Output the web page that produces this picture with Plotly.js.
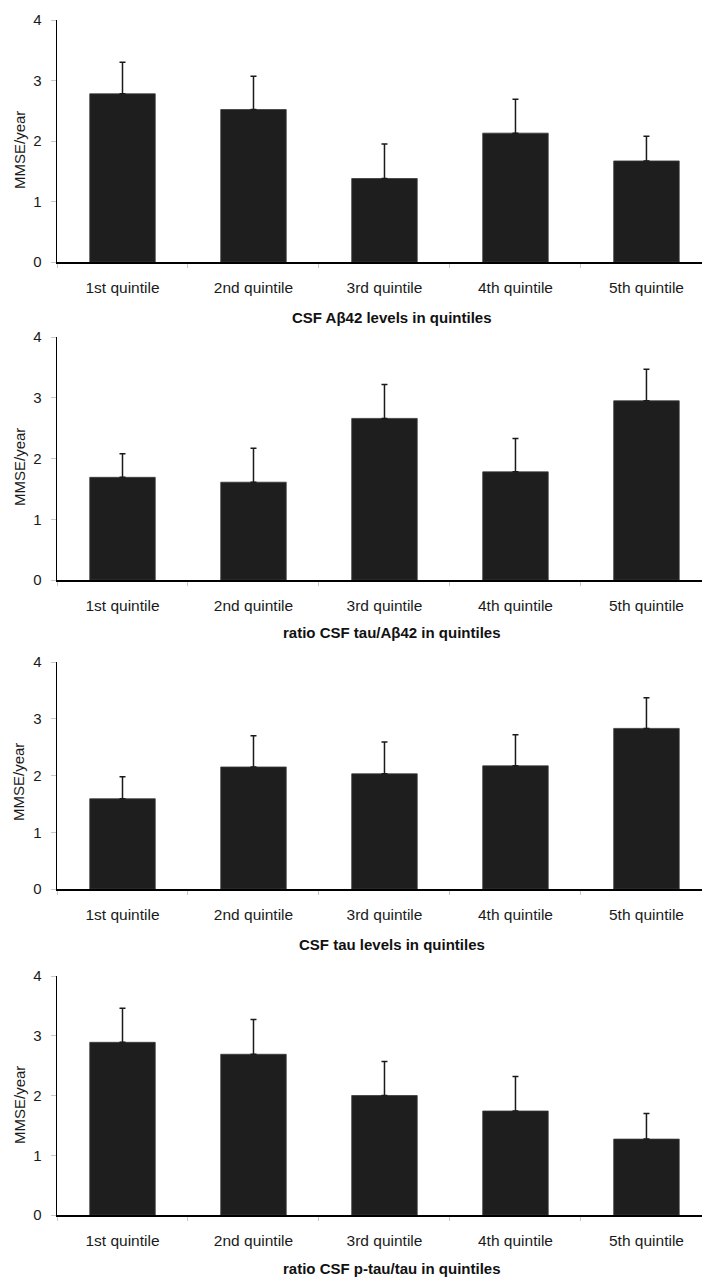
<!DOCTYPE html>
<html>
<head>
<meta charset="utf-8">
<script src="https://cdn.plot.ly/plotly-3.0.1.min.js"></script>
<style>
  html, body { margin: 0; padding: 0; background: #fff; }
  #chart { width: 702px; height: 1278px; }
</style>
</head>
<body>
<div id="chart"></div>
<script>
const categories = ['1st quintile', '2nd quintile', '3rd quintile', '4th quintile', '5th quintile'];

const abeta42Mean = [2.78, 2.52, 1.38, 2.13, 1.67];
const abeta42Err  = [0.52, 0.55, 0.57, 0.56, 0.41];

const tauAbetaMean = [1.69, 1.61, 2.66, 1.78, 2.95];
const tauAbetaErr  = [0.39, 0.56, 0.56, 0.55, 0.52];

const tauMean = [1.59, 2.15, 2.03, 2.17, 2.83];
const tauErr  = [0.39, 0.55, 0.56, 0.55, 0.54];

const ptauTauMean = [2.89, 2.69, 2.00, 1.74, 1.27];
const ptauTauErr  = [0.57, 0.58, 0.57, 0.58, 0.43];

const panelTitles = [
  'CSF Aβ42 levels in quintiles',
  'ratio CSF tau/Aβ42 in quintiles',
  'CSF tau levels in quintiles',
  'ratio CSF p-tau/tau in quintiles'
];
const yTitle = 'MMSE/year';
const yTicks = [0, 1, 2, 3, 4];

const means = [abeta42Mean, tauAbetaMean, tauMean, ptauTauMean];
const errs = [abeta42Err, tauAbetaErr, tauErr, ptauTauErr];

const H = 1278, W = 702;
// pixel geometry of each panel: [top, bottom] of plot area
const panelPx = [[20, 262], [337, 580], [662, 889], [976, 1215]];
const xTitleY = [317, 632, 944, 1268];
const yTitleY = [150, 467, 782, 1105];

const font = 'Liberation Sans, Arial, Helvetica, sans-serif';

const traces = [];
const layout = {
  width: W, height: H,
  margin: {l: 0, r: 0, t: 0, b: 0},
  paper_bgcolor: '#fff', plot_bgcolor: '#fff',
  showlegend: false,
  bargap: 0.5,
  font: {family: font, color: '#1a1a1a'},
  annotations: []
};

for (let i = 0; i < 4; i++) {
  const suffix = i === 0 ? '' : String(i + 1);
  traces.push({
    type: 'bar',
    x: categories,
    y: means[i],
    xaxis: 'x' + suffix,
    yaxis: 'y' + suffix,
    marker: {color: '#1e1e1e', line: {color: '#3a3a3a', width: 0.8}},
    error_y: {type: 'data', array: errs[i], arrayminus: errs[i].map(() => 0), symmetric: false,
              color: '#1a1a1a', thickness: 1.5, width: 3},
    hoverinfo: 'none'
  });
  const [top, bot] = panelPx[i];
  layout['xaxis' + suffix] = {
    domain: [57 / W, 1],
    anchor: 'y' + suffix,
    type: 'category',
    range: [-0.5, 4.424],
    showline: true, linecolor: '#000', linewidth: 1.5,
    ticks: 'outside', tickson: 'boundaries', ticklen: 4, tickcolor: '#c8c8c8', tickwidth: 1,
    tickfont: {family: font, size: 15.5, color: '#1a1a1a'},
    ticklabelstandoff: 11,
    showgrid: false, zeroline: false, fixedrange: true
  };
  layout['yaxis' + suffix] = {
    domain: [1 - bot / H, 1 - top / H],
    anchor: 'x' + suffix,
    range: [0, 4],
    tickvals: yTicks,
    showline: true, linecolor: '#000', linewidth: 1.5,
    ticks: 'outside', ticklen: 5, tickcolor: '#c8c8c8', tickwidth: 1,
    tickfont: {family: font, size: 15, color: '#1a1a1a'},
    ticklabelstandoff: 6,
    showgrid: false, zeroline: false, fixedrange: true
  };
  layout.annotations.push({
    text: '<b>' + panelTitles[i] + '</b>',
    xref: 'paper', yref: 'paper',
    x: 392 / W, y: 1 - xTitleY[i] / H,
    xanchor: 'center', yanchor: 'middle',
    showarrow: false,
    font: {family: font, size: 15, color: '#111'}
  });
  layout.annotations.push({
    text: yTitle,
    xref: 'paper', yref: 'paper',
    x: 19 / W, y: 1 - yTitleY[i] / H,
    xanchor: 'center', yanchor: 'middle',
    textangle: -90,
    showarrow: false,
    font: {family: font, size: 15, color: '#1a1a1a'}
  });
}

Plotly.newPlot('chart', traces, layout, {staticPlot: true, displayModeBar: false});
</script>
</body>
</html>
